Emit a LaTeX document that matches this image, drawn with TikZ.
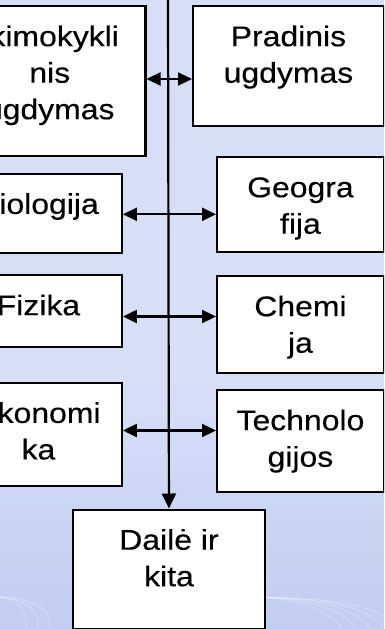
\documentclass[tikz,border=0pt]{standalone}
\usepackage{fontspec}
\newfontfamily\boxfont[FakeStretch=1.12,FakeBold=0.3]{Liberation Sans}
\usetikzlibrary{arrows.meta}
\definecolor{bgtop}{RGB}{215,223,247}
\definecolor{bgbot}{RGB}{193,205,242}
\newcommand\capstrut{\rule{0pt}{24pt}}

\begin{document}
\begin{tikzpicture}[x=1pt, y=-1pt,
    box/.style={draw, line width=2.2pt, fill=white, anchor=north west, inner sep=0pt},
    txt/.style={font=\boxfont\fontsize{28.5pt}{36.5pt}\selectfont, align=center, inner sep=0pt, anchor=north, yshift=-17pt},
    link/.style={line width=2.2pt, {Triangle[length=14pt,width=13pt]}-{Triangle[length=14pt,width=13pt]}},
    spine/.style={line width=2.2pt, -{Triangle[length=15pt,width=14pt]}},
    swirl/.style={white, opacity=0.35, line width=0.7pt}]
    \useasboundingbox (0,0) rectangle (384,629);
    \clip (0,0) rectangle (384,629);
    % background
    \fill[bgtop] (0,0) rectangle (384,629);
    \shade[top color=bgtop, bottom color=bgbot] (0,380) rectangle (384,629);
    \foreach \d in {0,14,28,42,56}
        \draw[swirl] (250,597) .. controls (300+\d,598) and (330+\d,610) .. (345+\d,632);
    \foreach \d in {0,12,24}
        \draw[swirl] (0,597) .. controls (20+\d,600) and (30+\d,615) .. (25+\d,632);
    % boxes
    \node[box, minimum width=191.3pt, minimum height=150pt] (ikim) at (-47,5) {};
    \node[box, minimum width=190.7pt, minimum height=119.5pt] (prad) at (192,5) {};
    \node[box, minimum width=166.7pt, minimum height=79pt] (bio) at (-46,172.7) {};
    \node[box, minimum width=166.7pt, minimum height=95pt] (geo) at (216,156) {};
    \node[box, minimum width=166.7pt, minimum height=71.7pt] (fiz) at (-46,274) {};
    \node[box, minimum width=166.7pt, minimum height=96.7pt] (chem) at (216,275) {};
    \node[box, minimum width=166.7pt, minimum height=103.3pt] (ekon) at (-46,381.7) {};
    \node[box, minimum width=166.7pt, minimum height=102pt] (tech) at (216,389) {};
    \node[box, minimum width=192.3pt, minimum height=119pt] (dail) at (71.7,508.5) {};
    % texts
    \node[txt] at (ikim.north) {\capstrut Ikimokykli\\nis\\ugdymas};
    \node[txt] at (prad.north) {\capstrut Pradinis\\ugdymas};
    \node[txt] at (bio.north) {\capstrut Biologija};
    \node[txt] at (geo.north) {\capstrut Geogra\\fija};
    \node[txt] at (fiz.north) {\capstrut Fizika};
    \node[txt] at (chem.north) {\capstrut Chemi\\ja};
    \node[txt] at (ekon.north) {\capstrut Ekonomi\\ka};
    \node[txt] at (tech.north) {\capstrut Technolo\\gijos};
    \node[txt] at (dail.north) {\capstrut Dailė ir\\kita};
    % spine and links
    \coordinate (stop) at (168,-5);
    \coordinate (s1) at (168,79);
    \coordinate (s2) at (168,214.3);
    \coordinate (s3) at (168,316.5);
    \coordinate (s4) at (168,430.5);
    \draw[spine] (stop) -- (dail.north);
    \draw[link] (s1 -| ikim.east) -- (s1 -| prad.west);
    \draw[link] (s2 -| bio.east) -- (s2 -| geo.west);
    \draw[link] (s3 -| fiz.east) -- (s3 -| chem.west);
    \draw[link] (s4 -| ekon.east) -- (s4 -| tech.west);
\end{tikzpicture}
\end{document}
